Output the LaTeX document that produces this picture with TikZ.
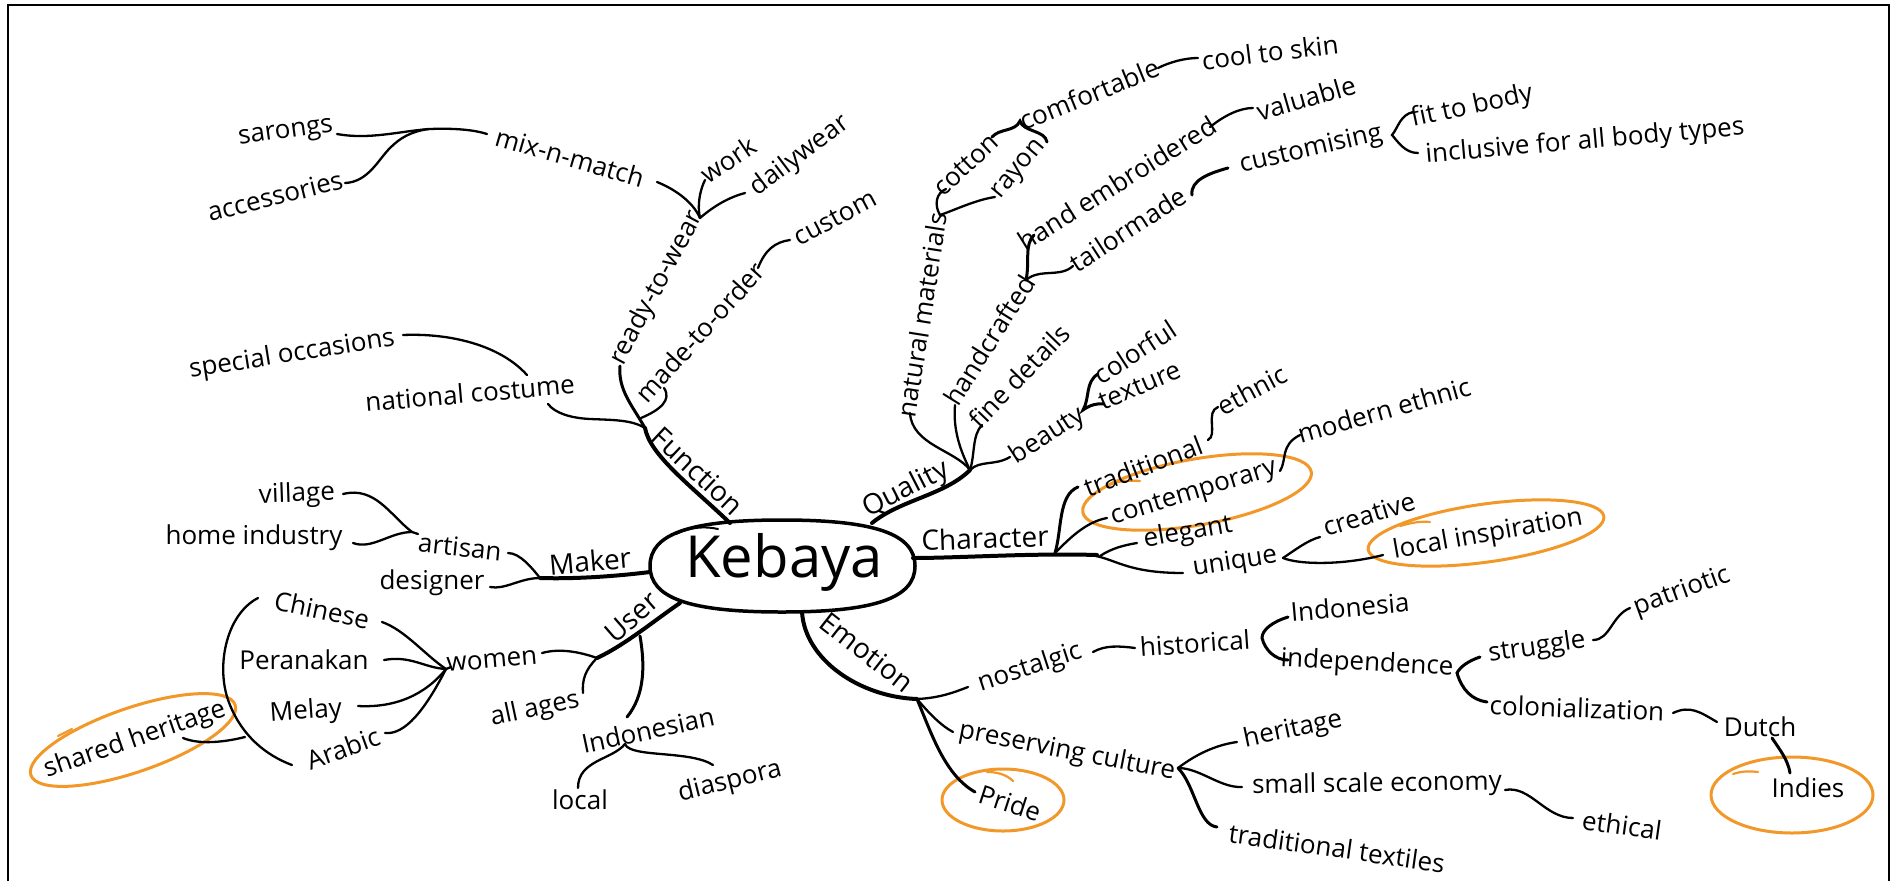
\documentclass[tikz,border=0pt]{standalone}
\usepackage{fontspec}
\setmainfont{Open Sans}
\usetikzlibrary{shapes.geometric}
\definecolor{hiorange}{RGB}{242,152,40}
\tikzset{
  lbl/.style={font=\fontsize{26}{30}\selectfont, inner sep=1pt},
  mainlbl/.style={font=\fontsize{28}{32}\selectfont, inner sep=1pt},
  twig/.style={line width=2.3pt, line cap=round},
  limb/.style={line width=3pt, line cap=round},
  trunk/.style={line width=4pt, line cap=round},
  ring/.style={draw=hiorange, line width=3pt, ellipse, inner sep=0pt},
  flick/.style={draw=hiorange, line width=2.2pt, line cap=round},
}
\begin{document}
\begin{tikzpicture}[x=1pt,y=-1pt]
\useasboundingbox (0,0) rectangle (1897,881);
% frame (its lower edge lies below the page)
\draw[line width=2pt] (8,881) -- (8,5) -- (1889,5) -- (1889,881);

% ---------- orange highlight rings ----------
\node[ring, minimum width=216, minimum height=64, rotate=19] (rShared) at (133,740) {};
\node[ring, minimum width=232, minimum height=66, rotate=10] (rCont) at (1197,492) {};
\node[ring, minimum width=238, minimum height=58, rotate=8] (rLocal) at (1486,533) {};
\node[ring, minimum width=122, minimum height=62] (rPride) at (1003,800) {};
\node[ring, minimum width=162, minimum height=76] (rIndies) at (1792,795) {};
% loose pen strokes where each ring was started
\coordinate (fC1) at (1108,485); \coordinate (fC2) at (1140,481);
\coordinate (fL1) at (1400,526); \coordinate (fL2) at (1430,522);
\coordinate (fP1) at (987,772);  \coordinate (fP2) at (1013,781);
\coordinate (fI1) at (1733,774); \coordinate (fI2) at (1758,772);
\coordinate (fS1) at (58,736);   \coordinate (fS2) at (72,729);
\draw[flick] (fC1) .. controls (1118,481) and (1130,480) .. (fC2);
\draw[flick] (fL1) .. controls (1410,523) and (1420,521) .. (fL2);
\draw[flick] (fP1) .. controls (996,772) and (1006,774) .. (fP2);
\draw[flick] (fI1) .. controls (1742,771) and (1750,771) .. (fI2);
\draw[flick] (fS1) -- (fS2);

% ---------- central topic ----------
\node[font=\fontsize{58}{64}\selectfont, inner sep=0pt] (keb) at (784,562) {Kebaya};
\draw[line width=3.5pt, line cap=round] (650,566) .. controls (650,534) and (689,520) .. (782,520)
  .. controls (875,520) and (915,534) .. (915,566)
  .. controls (915,598) and (875,612) .. (782,612)
  .. controls (689,612) and (650,598) .. (650,566) -- cycle;
\draw[line width=2pt, line cap=round] (676,534) .. controls (690,527) and (705,526) .. (718,529);

% ---------- ports and junctions ----------
\coordinate (kF) at (730,523);  \coordinate (kQ) at (872,523);
\coordinate (kC) at (913,558);  \coordinate (kE) at (802,612);
\coordinate (kU) at (680,603);  \coordinate (kM) at (650,572);
\coordinate (jF) at (645,428);  \coordinate (jR) at (700,218);
\coordinate (jSA) at (428,129); \coordinate (jArt) at (412,532);
\coordinate (jMk) at (540,578); \coordinate (jW) at (446,669);
\coordinate (jU) at (640,636);  \coordinate (jUw) at (597,658);
\coordinate (jInd) at (625,744); \coordinate (jE) at (917,699);
\coordinate (jPc) at (1178,768); \coordinate (jQ) at (970,470);
\coordinate (jNm) at (940,215); \coordinate (jHc) at (1026,280);
\coordinate (jCh) at (1055,553); \coordinate (jCh2) at (1097,555);
\coordinate (jUq) at (1283,558); \coordinate (jCom) at (1020,121);

% ---------- Function ----------
\node[lbl, rotate=8] (sar) at (286,134) {sarongs};
\node[lbl, rotate=14] (acc) at (275,196) {accessories};
\node[lbl, rotate=-16] (mix) at (570,157) {mix-n-match};
\node[lbl, rotate=34] (wrk) at (728,160) {work};
\node[lbl, rotate=37] (dly) at (800,156) {dailywear};
\node[lbl, rotate=28] (cus) at (835,218) {custom};
\node[lbl, rotate=62] (rtw) at (657,288) {ready-to-wear};
\node[lbl, rotate=48] (mto) at (700,332) {made-to-order};
\node[lbl, rotate=9] (spo) at (292,355) {special occasions};
\node[lbl, rotate=5] (nat) at (470,393) {national costume};
\node[mainlbl, rotate=-43] (fun) at (698,471) {Function};

\coordinate (rtwS) at (620,366); \coordinate (mtoJ) at (641,418);
\coordinate (mtoS) at (664,388); \coordinate (natE) at (548,404);
\coordinate (spoE) at (403,335); \coordinate (natT) at (527,375);
\coordinate (mixE) at (657,182); \coordinate (wrkS) at (705,180);
\coordinate (dlyS) at (745,193); \coordinate (mtoE) at (758,268);
\coordinate (cusS) at (790,240); \coordinate (sarE) at (337,134);
\coordinate (mixS) at (487,134); \coordinate (accE) at (345,183);

\draw[trunk] (kF) .. controls (690,485) and (650,455) .. (jF);
\draw[limb] (jF) .. controls (632,405) and (618,390) .. (rtwS);
\draw[twig] (mtoJ) .. controls (660,410) and (672,400) .. (mtoS);
\draw[twig] (jF) .. controls (632,420) and (615,420) .. (590,419) .. controls (570,418) and (555,413) .. (natE);
\draw[twig] (spoE) .. controls (450,333) and (500,345) .. (natT);
\draw[twig] (mixE) .. controls (672,188) and (692,200) .. (jR);
\draw[twig] (jR) .. controls (697,205) and (700,190) .. (wrkS);
\draw[twig] (jR) .. controls (715,205) and (730,197) .. (dlyS);
\draw[twig] (mtoE) .. controls (765,250) and (775,242) .. (cusS);
\draw[twig] (sarE) .. controls (370,140) and (400,131) .. (430,129) .. controls (455,128) and (475,130) .. (mixS);
\draw[twig] (accE) .. controls (368,182) and (378,160) .. (390,148) .. controls (400,138) and (410,132) .. (jSA);

% ---------- Maker ----------
\node[lbl, rotate=2] (vil) at (297,495) {village};
\node[lbl] (hom) at (254,538) {home industry};
\node[lbl, rotate=-6] (art) at (460,547) {artisan};
\node[lbl] (dsg) at (432,583) {designer};
\node[mainlbl, rotate=5] (mak) at (590,561) {Maker};

\coordinate (artE) at (508,553); \coordinate (dsgE) at (490,587);
\coordinate (vilE) at (343,494); \coordinate (homE) at (353,543);
\coordinate (artS) at (418,534);

\draw[trunk] (kM) .. controls (610,577) and (570,579) .. (jMk);
\draw[twig] (jMk) .. controls (532,568) and (520,553) .. (artE);
\draw[twig] (jMk) .. controls (520,578) and (505,590) .. (dsgE);
\draw[twig] (vilE) .. controls (375,486) and (390,515) .. (jArt);
\draw[twig] (homE) .. controls (372,550) and (390,532) .. (jArt) -- (artS);

% ---------- User ----------
\node[lbl, rotate=-12] (chi) at (322,610) {Chinese};
\node[lbl] (per) at (304,660) {Peranakan};
\node[lbl, rotate=4] (mel) at (306,712) {Melay};
\node[lbl, rotate=20] (ara) at (343,748) {Arabic};
\node[lbl, rotate=19] (sha) at (135,740) {shared heritage};
\node[lbl, rotate=5] (wom) at (492,661) {women};
\node[mainlbl, rotate=41] (usr) at (632,617) {User};
\node[lbl, rotate=12] (age) at (535,710) {all ages};
\node[lbl, rotate=12] (idn) at (648,730) {Indonesian};
\node[lbl] (loc) at (580,800) {local};
\node[lbl, rotate=14] (dia) at (730,782) {diaspora};

\coordinate (indN) at (627,717); \coordinate (womE) at (542,653);
\coordinate (ageE) at (583,693); \coordinate (locN) at (578,788);
\coordinate (diaN) at (713,765); \coordinate (chiE) at (382,622);
\coordinate (perE) at (384,660); \coordinate (melE) at (358,706);
\coordinate (araE) at (385,733); \coordinate (brT) at (258,598);
\coordinate (brB) at (292,765);  \coordinate (shaE) at (183,738);
\coordinate (brM) at (245,737);  \coordinate (womS) at (451,667);

\draw[trunk] (kU) .. controls (655,620) and (625,645) .. (jUw);
\draw[limb] (jU) .. controls (645,665) and (645,695) .. (indN);
\draw[twig] (jUw) .. controls (580,652) and (560,648) .. (womE);
\draw[twig] (jUw) .. controls (585,670) and (582,680) .. (ageE);
\draw[twig] (jInd) .. controls (612,760) and (578,760) .. (locN);
\draw[twig] (jInd) .. controls (630,758) and (690,750) .. (diaN);
\draw[twig] (chiE) .. controls (405,630) and (425,655) .. (jW);
\draw[twig] (perE) .. controls (410,655) and (425,668) .. (jW);
\draw[twig] (melE) .. controls (395,708) and (425,695) .. (jW);
\draw[twig] (araE) .. controls (405,735) and (425,710) .. (jW) -- (womS);
\draw[twig] (brT) .. controls (225,615) and (215,670) .. (230,705) .. controls (242,735) and (265,755) .. (brB);
\draw[twig] (shaE) .. controls (200,745) and (225,742) .. (brM);

% ---------- Emotion ----------
\node[mainlbl, rotate=-38] (emo) at (867,652) {Emotion};
\node[lbl, rotate=18] (nos) at (1030,668) {nostalgic};
\node[lbl, rotate=4] (his) at (1195,643) {historical};
\node[lbl, rotate=5] (ina) at (1350,607) {Indonesia};
\node[lbl, rotate=-3] (inp) at (1367,664) {independence};
\node[lbl, rotate=8] (str) at (1537,648) {struggle};
\node[lbl, rotate=20] (pat) at (1682,592) {patriotic};
\node[lbl, rotate=-2] (col) at (1577,708) {colonialization};
\node[lbl] (dut) at (1760,727) {Dutch};
\node[lbl] (ind) at (1808,788) {Indies};
\node[lbl, rotate=-11] (pre) at (1067,752) {preserving culture};
\node[lbl, rotate=-18] (pri) at (1010,803) {Pride};
\node[lbl, rotate=12] (her) at (1293,730) {heritage};
\node[lbl, rotate=1] (sse) at (1377,785) {small scale economy};
\node[lbl, rotate=-8] (ttx) at (1337,848) {traditional textiles};
\node[lbl, rotate=-8] (eth) at (1622,825) {ethical};

\coordinate (nosS) at (968,687);  \coordinate (preS) at (953,732);
\coordinate (priS) at (975,792);  \coordinate (nosE) at (1093,652);
\coordinate (hisS) at (1135,648); \coordinate (inaS) at (1288,617);
\coordinate (hisE) at (1262,638); \coordinate (inpS) at (1288,660);
\coordinate (strS) at (1480,657); \coordinate (inpE) at (1457,673);
\coordinate (colS) at (1487,702); \coordinate (strE) at (1593,640);
\coordinate (patS) at (1630,608); \coordinate (colE) at (1673,713);
\coordinate (dutS) at (1717,722); \coordinate (dutB) at (1772,738);
\coordinate (indT) at (1790,773); \coordinate (herS) at (1237,742);
\coordinate (sseS) at (1242,787); \coordinate (ttxS) at (1217,827);
\coordinate (sseE) at (1505,790); \coordinate (ethS) at (1573,818);

\draw[trunk] (kE) .. controls (805,660) and (860,697) .. (jE);
\draw[twig] (jE) .. controls (940,698) and (955,692) .. (nosS);
\draw[twig] (jE) .. controls (928,712) and (940,725) .. (preS);
\draw[limb] (jE) .. controls (932,735) and (945,775) .. (priS);
\draw[twig] (nosE) .. controls (1105,645) and (1120,646) .. (hisS);
\draw[limb] (inaS) .. controls (1272,622) and (1262,630) .. (hisE) .. controls (1265,650) and (1275,660) .. (inpS);
\draw[limb] (strS) .. controls (1468,661) and (1460,667) .. (inpE) .. controls (1462,690) and (1472,700) .. (colS);
\draw[twig] (strE) .. controls (1610,640) and (1612,615) .. (patS);
\draw[twig] (colE) .. controls (1690,705) and (1700,712) .. (dutS);
\draw[limb] (dutB) .. controls (1780,750) and (1788,760) .. (indT);
\draw[twig] (jPc) .. controls (1195,755) and (1215,745) .. (herS);
\draw[twig] (jPc) .. controls (1200,768) and (1220,788) .. (sseS);
\draw[limb] (jPc) .. controls (1195,785) and (1198,825) .. (ttxS);
\draw[twig] (sseE) .. controls (1530,785) and (1545,818) .. (ethS);

% ---------- Quality ----------
\node[mainlbl, rotate=27] (qua) at (906,490) {Quality};
\node[lbl, rotate=81] (nmt) at (922,315) {natural materials};
\node[lbl, rotate=43] (cot) at (966,165) {cotton};
\node[lbl, rotate=50] (ray) at (1020,170) {rayon};
\node[lbl, rotate=22] (com) at (1089,94) {comfortable};
\node[lbl, rotate=7] (cts) at (1270,52) {cool to skin};
\node[lbl, rotate=58] (hcr) at (989,340) {handcrafted};
\node[lbl, rotate=32] (hem) at (1117,183) {hand embroidered};
\node[lbl, rotate=33] (tlm) at (1128,229) {tailormade};
\node[lbl, rotate=16] (val) at (1306,98) {valuable};
\node[lbl, rotate=13] (cst) at (1311,150) {customising};
\node[lbl, rotate=12] (fit) at (1472,107) {fit to body};
\node[lbl, rotate=5] (inc) at (1585,142) {inclusive for all body types};
\node[lbl, rotate=46] (fdt) at (1019,376) {fine details};
\node[lbl, rotate=33] (bea) at (1048,436) {beauty};
\node[lbl, rotate=33] (clf) at (1135,352) {colorful};
\node[lbl, rotate=23] (tex) at (1140,386) {texture};

\coordinate (nmtS) at (910,413); \coordinate (hcrS) at (955,405);
\coordinate (fdtS) at (982,425); \coordinate (beaS) at (1010,457);
\coordinate (cotS) at (946,189); \coordinate (rayS) at (995,197);
\coordinate (cotE) at (992,137); \coordinate (rayE) at (1047,142);
\coordinate (comE) at (1158,68); \coordinate (ctsS) at (1198,58);
\coordinate (hemS) at (1034,235); \coordinate (tlmS) at (1073,266);
\coordinate (hemE) at (1210,127); \coordinate (valS) at (1253,108);
\coordinate (tlmE) at (1192,195); \coordinate (cstS) at (1228,168);
\coordinate (fitS) at (1413,112); \coordinate (cstE) at (1392,135);
\coordinate (incS) at (1418,153); \coordinate (clfS) at (1098,374);
\coordinate (beaE) at (1083,410); \coordinate (texS) at (1104,404);

\draw[trunk] (kQ) .. controls (900,500) and (945,495) .. (jQ);
\draw[twig] (jQ) .. controls (955,450) and (912,445) .. (nmtS);
\draw[twig] (jQ) .. controls (960,450) and (953,430) .. (hcrS);
\draw[twig] (jQ) .. controls (975,455) and (972,435) .. (fdtS);
\draw[twig] (jQ) .. controls (980,460) and (995,466) .. (beaS);
\draw[twig] (jNm) .. controls (934,205) and (936,193) .. (cotS);
\draw[twig] (jNm) .. controls (955,210) and (975,200) .. (rayS);
\draw[limb] (cotE) .. controls (1000,128) and (1015,132) .. (jCom) .. controls (1023,132) and (1045,130) .. (rayE);
\draw[twig] (comE) .. controls (1170,62) and (1185,58) .. (ctsS);
\draw[limb] (jHc) .. controls (1030,262) and (1024,245) .. (hemS);
\draw[twig] (jHc) .. controls (1040,268) and (1060,278) .. (tlmS);
\draw[twig] (hemE) .. controls (1225,115) and (1240,108) .. (valS);
\draw[limb] (tlmE) .. controls (1190,180) and (1210,173) .. (cstS);
\draw[twig] (fitS) .. controls (1400,115) and (1398,128) .. (cstE) .. controls (1398,142) and (1405,153) .. (incS);
\draw[limb] (clfS) .. controls (1085,382) and (1090,398) .. (beaE) .. controls (1090,405) and (1097,403) .. (texS);

% ---------- Character ----------
\node[mainlbl, rotate=2] (chr) at (985,538) {Character};
\node[lbl, rotate=21] (trd) at (1143,466) {traditional};
\node[lbl, rotate=28] (etn) at (1252,390) {ethnic};
\node[lbl, rotate=17] (con) at (1194,494) {contemporary};
\node[lbl, rotate=16] (mod) at (1384,410) {modern ethnic};
\node[lbl, rotate=10] (elg) at (1188,533) {elegant};
\node[lbl, rotate=9] (unq) at (1235,563) {unique};
\node[lbl, rotate=17] (cre) at (1369,514) {creative};
\node[lbl, rotate=10] (lci) at (1488,535) {local inspiration};

\coordinate (trdS) at (1078,487); \coordinate (conS) at (1107,518);
\coordinate (elgJ) at (1100,556); \coordinate (elgS) at (1137,543);
\coordinate (unqJ) at (1090,555); \coordinate (unqS) at (1183,573);
\coordinate (trdE) at (1208,440); \coordinate (etnS) at (1218,407);
\coordinate (conE) at (1280,471); \coordinate (modS) at (1300,435);
\coordinate (creS) at (1320,537); \coordinate (lciS) at (1383,555);

\draw[trunk] (kC) .. controls (960,558) and (1030,553) .. (jCh2);
\draw[limb] (jCh) .. controls (1062,530) and (1058,495) .. (trdS);
\draw[twig] (jCh) .. controls (1068,540) and (1085,522) .. (conS);
\draw[twig] (elgJ) .. controls (1112,548) and (1125,545) .. (elgS);
\draw[twig] (unqJ) .. controls (1115,558) and (1125,573) .. (unqS);
\draw[twig] (trdE) .. controls (1218,435) and (1205,412) .. (etnS);
\draw[twig] (conE) .. controls (1287,460) and (1280,445) .. (modS);
\draw[twig] (jUq) .. controls (1295,550) and (1308,540) .. (creS);
\draw[twig] (jUq) .. controls (1300,565) and (1345,565) .. (lciS);
\end{tikzpicture}
\end{document}
